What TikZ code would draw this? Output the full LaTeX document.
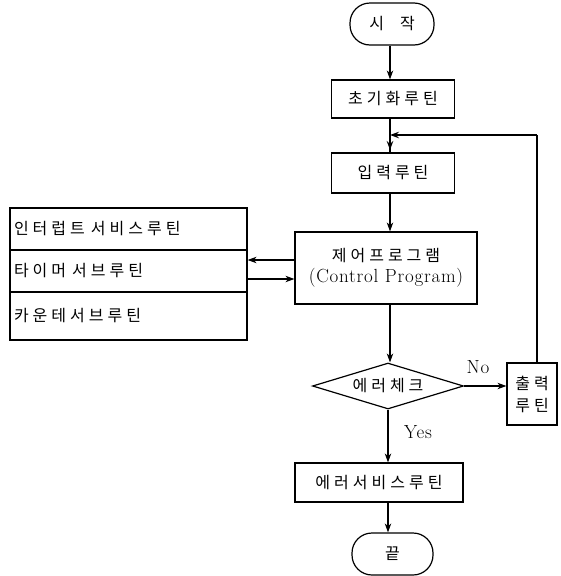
\documentclass[tikz,border=0pt]{standalone}
\usepackage{fontspec}
\newfontfamily\kr{Noto Sans CJK KR}[LetterSpace=25]
\newfontfamily\lat{Latin Modern Roman}[LetterSpace=4]
\usetikzlibrary{shapes.geometric,arrows.meta}
\begin{document}
\begin{tikzpicture}[x=1pt,y=-1pt,
  every node/.style={font=\kr\fontsize{16}{20}\selectfont, line width=1.2pt},
  box/.style={draw, rectangle, inner sep=0pt},
  term/.style={draw, rectangle, rounded corners=20pt, inner sep=0pt},
  lbox/.style={draw, rectangle, inner sep=0pt, minimum width=237pt, text width=229pt, align=left},
  lbl/.style={font=\lat\fontsize{19}{22}\selectfont},
  arr/.style={line width=1.2pt, -{Stealth[length=9pt,width=6.5pt]}},
  ln/.style={line width=1.2pt}]
\useasboundingbox (0,0) rectangle (561,576);
\node[term, minimum width=84pt, minimum height=42pt] (start) at (392,24) {시\hspace{16pt}작};
\node[box, minimum width=123pt, minimum height=38pt] (init) at (393,99) {초기화루틴};
\node[box, minimum width=123pt, minimum height=40pt] (input) at (393,173) {입력루틴};
\node[box, minimum width=182pt, minimum height=72pt, align=center] (ctrl) at (386,268)
  {제어프로그램\\[1pt]{\lat\fontsize{19}{22}\selectfont (Control Program)}};
\node[lbox, minimum height=42pt] (lb1) at (128.5,229) {인터럽트\hspace{6pt}서비스루틴};
\node[lbox, minimum height=42pt] (lb2) at (128.5,271) {타이머\hspace{6pt}서브루틴};
\node[lbox, minimum height=48pt] (lb3) at (128.5,316) {카운테서브루틴};
\node[draw, diamond, aspect=3.3, inner sep=0pt, minimum width=151pt, minimum height=46pt] (chk) at (388,386) {};
\node (chkt) at (388,386) {에러체크};
\node[box, minimum width=50pt, minimum height=62pt, align=center, font=\kr\fontsize{16}{22}\selectfont] (out) at (532,394) {출력\\루틴};
\node[box, minimum width=168pt, minimum height=39pt] (esvc) at (379,482.5) {에러서비스루틴};
\node[term, minimum width=81pt, minimum height=42pt] (fin) at (392.5,554) {끝};
\coordinate (fb) at (537,135);
\coordinate (join) at (390,135);
\draw[arr] (start.south -| join) -- (init.north -| join);
\draw[ln] (init.south -| join) -- (input.north -| join);
\draw[arr] (join) ++(0,-1) -- ++(0,16);
\draw[arr] (input.south -| join) -- (ctrl.north -| join);
\draw[arr] (ctrl.south -| join) -- (chk.north -| join);
\draw[arr] (chk.east) -- (out.west |- chk.east);
\draw[ln] (out.north -| fb) -- (fb);
\draw[arr] (fb) -- (join);
\draw[arr] (chk.south) -- (esvc.north -| chk.south);
\draw[arr] (esvc.south -| chk.south) -- (fin.north -| chk.south);
\draw[arr] ([yshift=8pt]ctrl.west) -- ([yshift=8pt]ctrl.west -| lb2.east);
\draw[arr] ([yshift=-11pt]ctrl.west -| lb2.east) -- ([yshift=-11pt]ctrl.west);
\node[lbl] (no) at (478,367) {No};
\node[lbl] (yes) at (418,432) {Yes};
\end{tikzpicture}
\end{document}
